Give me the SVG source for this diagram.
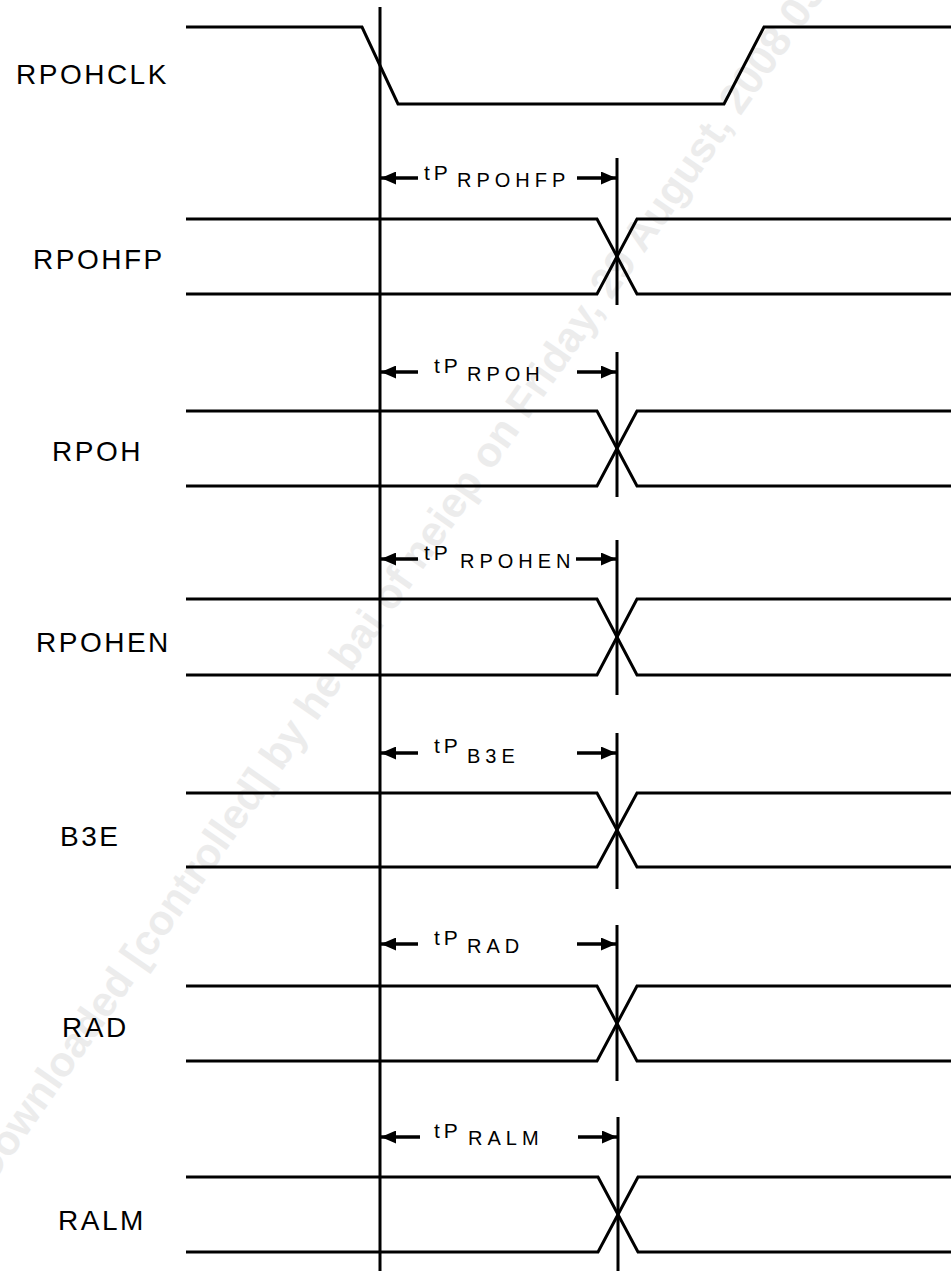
<svg xmlns="http://www.w3.org/2000/svg" width="951" height="1271" viewBox="0 0 951 1271">
<style>
.sig{fill:none;stroke:#000;stroke-width:3;stroke-linejoin:miter}
.vl{fill:none;stroke:#000;stroke-width:3}
.dim{fill:none;stroke:#000;stroke-width:3.3;marker-end:url(#ah)}
.lbl{font-family:"Liberation Sans",Arial,sans-serif;font-size:28px;letter-spacing:2.5px;fill:#000}
.tp{font-family:"Liberation Sans",Arial,sans-serif;font-size:21px;letter-spacing:4px;fill:#000}
.sub{font-family:"Liberation Sans",Arial,sans-serif;font-size:20px;letter-spacing:5px;fill:#000}
.wm{font-family:"Liberation Sans",Arial,sans-serif;font-size:42px;font-weight:bold;fill:#ececec}
</style>
<defs>
<marker id="ah" markerUnits="userSpaceOnUse" markerWidth="16" markerHeight="13" refX="15" refY="6.5" orient="auto">
<path d="M0,0 L15,6.5 L0,13 z" fill="#000"/>
</marker>
</defs>
<rect width="951" height="1271" fill="#fff"/>
<text class="wm" transform="translate(-8,1185) rotate(-55)">Downloaded [controlled] by he bai of neiep on Friday, 29 August, 2008 03</text>

<g id="ref-line"><line class="vl" x1="380" y1="7" x2="380" y2="1271"/></g>

<g id="RPOHCLK">
<polyline class="sig" points="186,27 362,27 398,104 724,104 764,27 951,27"/>
<text class="lbl" x="16" y="84">RPOHCLK</text>
</g>

<g id="RPOHFP">
<polyline class="sig" points="186,219 597,219 637,294 951,294"/>
<polyline class="sig" points="186,294 597,294 637,219 951,219"/>
<line class="vl" x1="617" y1="158" x2="617" y2="305"/>
<text class="lbl" x="33" y="269">RPOHFP</text>
<text class="tp" x="424" y="180">tP</text>
<text class="sub" x="457" y="187">RPOHFP</text>
</g>

<g id="RPOH">
<polyline class="sig" points="186,411 597,411 637,486 951,486"/>
<polyline class="sig" points="186,486 597,486 637,411 951,411"/>
<line class="vl" x1="617" y1="352" x2="617" y2="497"/>
<text class="lbl" x="52" y="461">RPOH</text>
<text class="tp" x="434" y="373">tP</text>
<text class="sub" x="467" y="381">RPOH</text>
</g>

<g id="RPOHEN">
<polyline class="sig" points="186,599 597,599 637,675 951,675"/>
<polyline class="sig" points="186,675 597,675 637,599 951,599"/>
<line class="vl" x1="617" y1="540" x2="617" y2="695"/>
<text class="lbl" x="36" y="652">RPOHEN</text>
<text class="tp" x="424" y="560">tP</text>
<text class="sub" x="460" y="568">RPOHEN</text>
</g>

<g id="B3E">
<polyline class="sig" points="186,793 597,793 637,867 951,867"/>
<polyline class="sig" points="186,867 597,867 637,793 951,793"/>
<line class="vl" x1="617" y1="733" x2="617" y2="889"/>
<text class="lbl" x="60" y="846">B3E</text>
<text class="tp" x="434" y="753">tP</text>
<text class="sub" x="467" y="763">B3E</text>
</g>

<g id="RAD">
<polyline class="sig" points="186,986 597,986 637,1061 951,1061"/>
<polyline class="sig" points="186,1061 597,1061 637,986 951,986"/>
<line class="vl" x1="617" y1="925" x2="617" y2="1081"/>
<text class="lbl" x="62" y="1037">RAD</text>
<text class="tp" x="434" y="945">tP</text>
<text class="sub" x="467" y="953">RAD</text>
</g>

<g id="RALM">
<polyline class="sig" points="186,1177 598,1177 638,1252 951,1252"/>
<polyline class="sig" points="186,1252 598,1252 638,1177 951,1177"/>
<line class="vl" x1="618" y1="1117" x2="618" y2="1271"/>
<text class="lbl" x="58" y="1230">RALM</text>
<text class="tp" x="434" y="1138">tP</text>
<text class="sub" x="468" y="1145">RALM</text>
</g>

<g id="connectors">
<line class="dim" x1="418" y1="178" x2="381" y2="178"/>
<line class="dim" x1="577" y1="178" x2="616" y2="178"/>
<line class="dim" x1="418" y1="372" x2="381" y2="372"/>
<line class="dim" x1="577" y1="372" x2="616" y2="372"/>
<line class="dim" x1="418" y1="559" x2="381" y2="559"/>
<line class="dim" x1="576" y1="559" x2="616" y2="559"/>
<line class="dim" x1="418" y1="753" x2="381" y2="753"/>
<line class="dim" x1="577" y1="753" x2="616" y2="753"/>
<line class="dim" x1="418" y1="944" x2="381" y2="944"/>
<line class="dim" x1="577" y1="944" x2="616" y2="944"/>
<line class="dim" x1="420" y1="1137" x2="381" y2="1137"/>
<line class="dim" x1="578" y1="1137" x2="617" y2="1137"/>
</g>
</svg>
